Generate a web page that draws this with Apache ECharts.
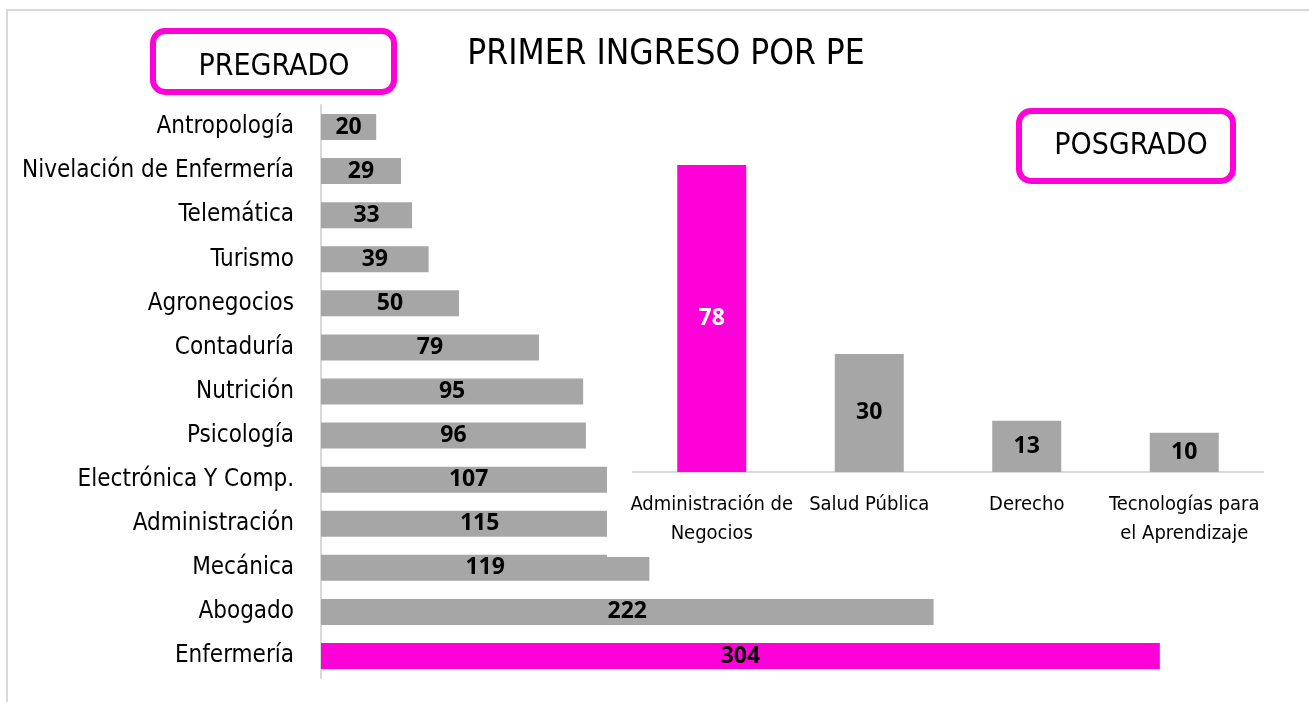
<!DOCTYPE html>
<html>
<head>
<meta charset="utf-8">
<title>Primer ingreso por PE</title>
<script src="https://cdn.jsdelivr.net/npm/echarts@6/dist/echarts.min.js"></script>
<style>
  html, body { margin: 0; padding: 0; background: #fff; }
  #main { width: 1309px; height: 702px; }
</style>
</head>
<body>
<div id="main"></div>
<script>
// pregrado, top to bottom
var pregradoCats = [
  "Antropología", "Nivelación de Enfermería", "Telemática", "Turismo",
  "Agronegocios", "Contaduría", "Nutrición", "Psicología",
  "Electrónica Y Comp.", "Administración", "Mecánica", "Abogado", "Enfermería"
];
var pregradoValues = [20, 29, 33, 39, 50, 79, 95, 96, 107, 115, 119, 222, 304];

// posgrado
var posgradoCats = [
  "Administración de Negocios", "Salud Pública", "Derecho",
  "Tecnologías para el Aprendizaje"
];
var posgradoValues = [78, 30, 13, 10];

var MAGENTA = "#ff00d9";
var GRAY = "#a6a6a6";
var NARROW = "'DejaVu Sans Condensed', 'Liberation Sans Narrow', sans-serif";
var BOLD = "'Open Sans', 'DejaVu Sans', sans-serif";

var preMax = Math.max.apply(null, pregradoValues);
var posMax = Math.max.apply(null, posgradoValues);

// greedy word wrap, like the spreadsheet does for the axis labels
function wrap(text, maxChars) {
  var lines = [], cur = "";
  text.split(" ").forEach(function (w) {
    var next = cur ? cur + " " + w : w;
    if (next.length > maxChars && cur) { lines.push(cur); cur = w; }
    else cur = next;
  });
  lines.push(cur);
  return lines.join("\n");
}

var chart = echarts.init(document.getElementById("main"));
chart.setOption({
  animation: false,
  backgroundColor: "#fff",
  title: {
    text: "PRIMER INGRESO POR PE",
    left: 661,
    top: 32,
    textAlign: "center",
    textStyle: { fontFamily: NARROW, fontSize: 35, fontWeight: "normal", color: "#000" }
  },
  graphic: [
    // outer frame
    {
      type: "rect", z: 0, silent: true,
      shape: { x: 7, y: 10, width: 1400, height: 800 },
      style: { fill: null, stroke: "#d9d9d9", lineWidth: 2 }
    },
    // white panel of the posgrado chart, lies over the long pregrado bars
    {
      type: "rect", z: 3, silent: true,
      shape: { x: 607, y: 100, width: 668, height: 457 },
      style: { fill: "#fff" }
    },
    {
      type: "rect", z: 6, silent: true,
      shape: { x: 153, y: 31, width: 241, height: 61, r: 12 },
      style: { fill: "#fff", stroke: MAGENTA, lineWidth: 6 }
    },
    {
      type: "text", z: 7, silent: true, x: 274, y: 67,
      style: { text: "PREGRADO", font: "30px " + NARROW, fill: "#000", align: "center", verticalAlign: "middle" }
    },
    {
      type: "rect", z: 6, silent: true,
      shape: { x: 1019, y: 111, width: 214, height: 70, r: 12 },
      style: { fill: "#fff", stroke: MAGENTA, lineWidth: 6 }
    },
    {
      type: "text", z: 7, silent: true, x: 1131, y: 146,
      style: { text: "POSGRADO", font: "30px " + NARROW, fill: "#000", align: "center", verticalAlign: "middle" }
    }
  ],
  grid: [
    { left: 321, top: 105, width: 883, height: 573 },
    { left: 633, top: 157, width: 630, height: 315 }
  ],
  xAxis: [
    {
      gridIndex: 0, type: "value", min: 0, max: 320,
      show: false
    },
    {
      gridIndex: 1, type: "category", data: posgradoCats, z: 5,
      axisLine: { lineStyle: { color: "#d9d9d9", width: 2 } },
      axisTick: { show: false },
      axisLabel: {
        interval: 0, margin: 18,
        formatter: function (v) { return wrap(v, 17); },
        fontFamily: NARROW, fontSize: 20, lineHeight: 29, color: "#000"
      }
    }
  ],
  yAxis: [
    {
      gridIndex: 0, type: "category", data: pregradoCats, inverse: true,
      axisLine: { lineStyle: { color: "#d9d9d9", width: 2 } },
      axisTick: { show: false },
      axisLabel: { margin: 27, fontFamily: NARROW, fontSize: 24, color: "#000" }
    },
    {
      gridIndex: 1, type: "value", min: 0, max: 80, show: false
    }
  ],
  series: [
    {
      type: "bar", xAxisIndex: 0, yAxisIndex: 0, z: 2,
      data: pregradoValues, barWidth: 26,
      itemStyle: {
        color: function (p) { return p.value === preMax ? MAGENTA : GRAY; }
      },
      label: {
        show: true, position: "inside",
        fontFamily: BOLD, fontWeight: "bold", fontSize: 23, color: "#000"
      }
    },
    {
      type: "bar", xAxisIndex: 1, yAxisIndex: 1, z: 5,
      data: posgradoValues.map(function (v) {
        return v === posMax ? { value: v, label: { color: "#fff" } } : v;
      }),
      barWidth: 69,
      itemStyle: {
        color: function (p) { return p.value === posMax ? MAGENTA : GRAY; }
      },
      label: {
        show: true, position: "inside",
        fontFamily: BOLD, fontWeight: "bold", fontSize: 23, color: "#000"
      }
    }
  ]
});
</script>
</body>
</html>
